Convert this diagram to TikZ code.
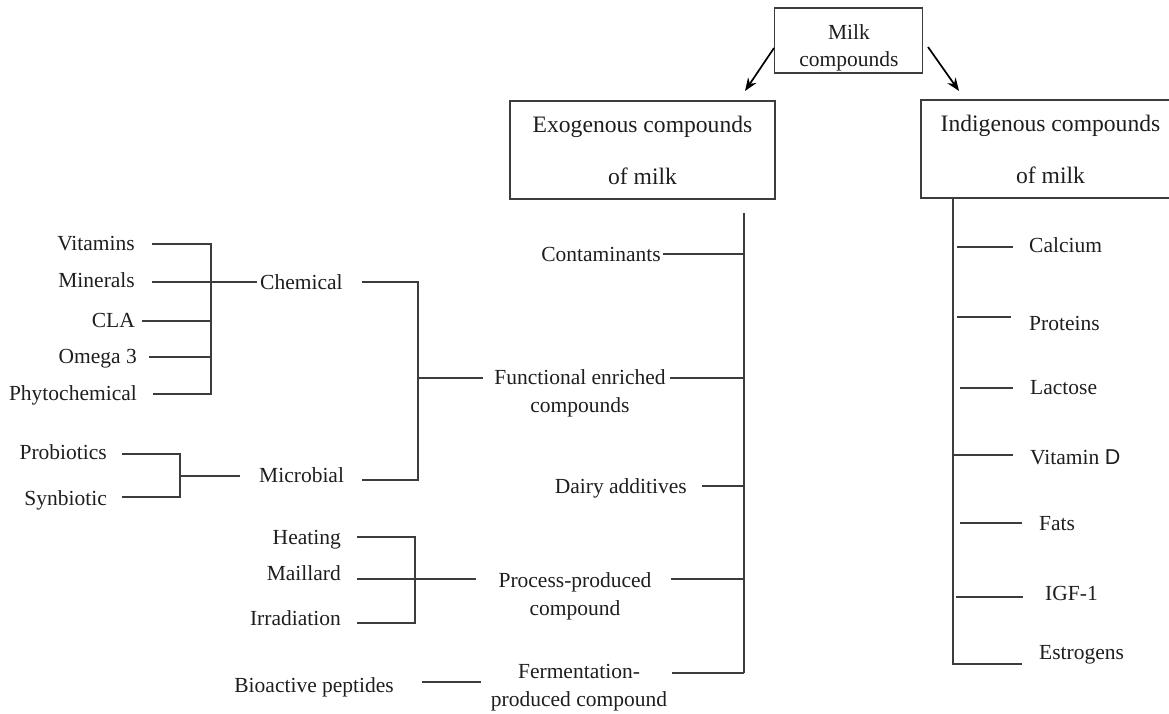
\documentclass[tikz,border=0pt]{standalone}
\usepackage{fontspec}
\setmainfont{Liberation Serif}
\newfontfamily\sansD{Liberation Sans}
\usetikzlibrary{arrows.meta}
\definecolor{ink}{HTML}{1E1E1E}
\definecolor{wirec}{HTML}{3C3C3C}
\begin{document}
\begin{tikzpicture}[x=1pt,y=-1pt,
  lbl/.style={inner sep=0pt, text=ink, font=\fontsize{21.5}{28}\selectfont},
  lr/.style={lbl, anchor=base east},
  ll/.style={lbl, anchor=base west},
  two/.style={lbl, align=center, anchor=center},
  boxx/.style={draw=wirec, line width=1.9pt, inner sep=0pt, align=center, text=ink},
  bigtxt/.style={font=\fontsize{23.6}{52}\selectfont},
  wire/.style={draw=wirec, line width=1.6pt},
  arr/.style={draw=black, line width=1.7pt, -{Stealth[length=13pt,width=10pt]}}]
\useasboundingbox (0,0) rectangle (1169,713);

% top boxes
\node[boxx, minimum width=148pt, minimum height=65pt] (milk) at (848.5,40.5) {};
\node[two, font=\fontsize{21.5}{27}\selectfont] (milkt) at (849,47.5) {Milk\\compounds};
\node[boxx, bigtxt, minimum width=265pt, minimum height=98pt] (exo) at (642.5,150) {Exogenous compounds\\of milk};
\node[boxx, bigtxt, minimum width=259pt, minimum height=98pt] (ind) at (1050.5,149) {Indigenous compounds\\of milk};

\coordinate (a1s) at (774,48);
\coordinate (a1e) at (745,91);
\coordinate (a2s) at (928,47);
\coordinate (a2e) at (959,91);
\draw[arr] (a1s) -- (a1e);
\draw[arr] (a2s) -- (a2e);

% exogenous trunk
\coordinate (et) at (744,213);
\coordinate (eb) at (744,673);
\draw[wire] (et) -- (eb);

% exogenous categories
\node[lr] (cont) at (661,261) {Contaminants};
\node[two] (func) at (580,393.5) {Functional enriched\\compounds};
\node[lr] (dairy) at (687,493) {Dairy additives};
\node[two] (proc) at (575,596) {Process-produced\\compound};
\node[two] (ferm) at (579,688) {Fermentation-\\produced compound};

\draw[wire] (663,254) -- (744,254);
\draw[wire] (670,378) -- (744,378);
\draw[wire] (702,486) -- (744,486);
\draw[wire] (671,579) -- (744,579);
\draw[wire] (672,673) -- (744,673);

% chemical / microbial
\node[ll] (chem) at (260,289) {Chemical};
\node[ll] (micro) at (259,482) {Microbial};
\draw[wire] (362,282) -- (418,282) -- (418,480) -- (362,480);
\draw[wire] (418,378) -- (483,378);

% vitamins group
\node[lr] (vit) at (135,250) {Vitamins};
\node[lr] (min) at (135,287) {Minerals};
\node[lr] (cla) at (135,327) {CLA};
\node[lr] (omg) at (137,363) {Omega 3};
\node[lr] (phy) at (137,400) {Phytochemical};
\draw[wire] (152,244) -- (211,244) -- (211,394) -- (153,394);
\draw[wire] (152,282) -- (257,282);
\draw[wire] (142,321) -- (211,321);
\draw[wire] (149,357) -- (211,357);

% probiotics group
\node[lr] (prob) at (107,459) {Probiotics};
\node[lr] (synb) at (107,505) {Synbiotic};
\draw[wire] (122,454) -- (180,454) -- (180,497) -- (122,497);
\draw[wire] (180,476) -- (240,476);

% process group
\node[lr] (heat) at (341,544) {Heating};
\node[lr] (mail) at (341,580) {Maillard};
\node[lr] (irr) at (341,625) {Irradiation};
\draw[wire] (357,537) -- (415,537) -- (415,623) -- (357,623);
\draw[wire] (357,579) -- (476,579);

% fermentation
\node[lr] (bio) at (394,692) {Bioactive peptides};
\draw[wire] (422,682) -- (481,682);

% indigenous trunk
\coordinate (it) at (953,198);
\coordinate (ib) at (953,665);
\draw[wire] (it) -- (ib);

\node[ll] (calc) at (1029,252) {Calcium};
\node[ll] (prot) at (1029,330) {Proteins};
\node[ll] (lact) at (1030,394) {Lactose};
\node[ll] (vitd) at (1030,464) {Vitamin {\sansD D}};
\node[ll] (fats) at (1039,530) {Fats};
\node[ll] (igf) at (1045,600) {IGF-1};
\node[ll] (estr) at (1039,659) {Estrogens};

\draw[wire] (957,247) -- (1013,247);
\draw[wire] (957,317) -- (1011,317);
\draw[wire] (960,388) -- (1013,388);
\draw[wire] (953,455) -- (1013,455);
\draw[wire] (960,523) -- (1022,523);
\draw[wire] (956,597) -- (1023,597);
\draw[wire] (953,664) -- (1022,664);
\end{tikzpicture}
\end{document}
